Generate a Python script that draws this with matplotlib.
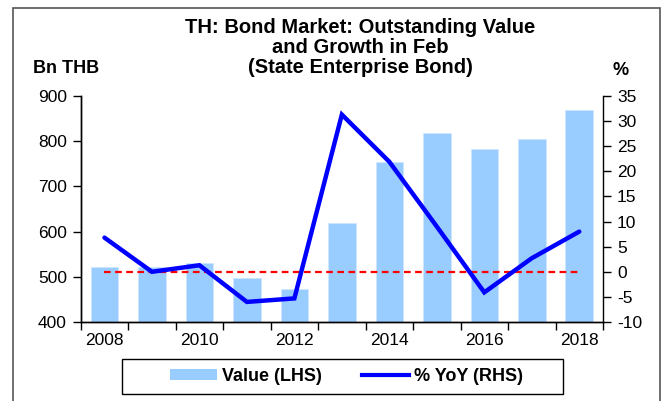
import matplotlib.pyplot as plt
from matplotlib.patches import Patch, Rectangle
from matplotlib.lines import Line2D

plt.rcParams['font.family'] = ['Liberation Sans', 'DejaVu Sans']
plt.rcParams['axes.unicode_minus'] = False

# data
years = [2008, 2009, 2010, 2011, 2012, 2013, 2014, 2015, 2016, 2017, 2018]
value_bn_thb = [522, 522, 530, 497, 472, 620, 753, 818, 783, 805, 870]
yoy_pct = [6.8, 0.0, 1.3, -6.0, -5.3, 31.3, 21.9, 9.0, -4.1, 2.7, 8.0]
label_years = [2008, 2010, 2012, 2014, 2016, 2018]

bar_color = '#99CCFF'
line_color = '#0000FF'

fig = plt.figure(figsize=(6.66, 4.01), dpi=100)
ax = fig.add_axes([0.1212, 0.197, 0.7842, 0.5636])
ax2 = ax.twinx()

x = list(range(len(years)))

ax.bar(x, value_bn_thb, width=0.58, color=bar_color, edgecolor='#cfe6ff', linewidth=0.6)
ax.set_ylim(400, 900)
ax.set_yticks(range(400, 901, 100))
ax.set_xlim(-0.5, len(years) - 0.5)

# ticks at category boundaries, labels every other year at centres
ax.set_xticks([i - 0.5 for i in range(len(years) + 1)])
ax.set_xticklabels([])
ax.set_xticks([years.index(y) for y in label_years], minor=True)
ax.set_xticklabels([str(y) for y in label_years], minor=True)
ax.tick_params(axis='x', which='major', direction='out', length=6, width=1)
ax.tick_params(axis='x', which='minor', length=0, pad=8, labelsize=12.5)
ax.tick_params(axis='y', direction='out', length=6, width=1, labelsize=12.5, pad=4)

ax2.plot([x[0], x[-1]], [0, 0], color='#FF0000', lw=1.6, dashes=(3, 2))
ax2.plot(x, yoy_pct, color=line_color, lw=3.2, solid_capstyle='round', solid_joinstyle='miter')
ax2.set_ylim(-10, 35)
ax2.set_yticks(range(-10, 36, 5))
ax2.tick_params(axis='y', direction='out', length=6, width=1, labelsize=12.5, pad=4)

for a in (ax, ax2):
    a.spines['top'].set_visible(False)
    for s in ('left', 'right', 'bottom'):
        a.spines[s].set_linewidth(1)
ax.spines['right'].set_visible(False)

# title and axis unit labels
title_lines = ['TH: Bond Market: Outstanding Value', 'and Growth in Feb', '(State Enterprise Bond)']
for line, yb in zip(title_lines, [0.9177, 0.8678, 0.818]):
    fig.text(0.541, yb, line, ha='center', va='baseline', fontsize=14.5, fontweight='bold')
fig.text(0.0495, 0.8187, 'Bn THB', ha='left', va='baseline', fontsize=13, fontweight='bold')
fig.text(0.9324, 0.813, '%', ha='center', va='baseline', fontsize=13, fontweight='bold')

# legend with its own box
fig.patches.append(Rectangle((0.1832, 0.0175), 0.6622, 0.0873, transform=fig.transFigure,
                             fill=False, edgecolor='black', lw=1))
handles = [Patch(facecolor=bar_color, edgecolor='none'),
           Line2D([], [], color=line_color, lw=3)]
leg = fig.legend(handles, ['Value (LHS)', '% YoY (RHS)'], loc='center',
                 bbox_to_anchor=(0.52, 0.061), ncol=2, frameon=False,
                 handlelength=2.6, handleheight=0.6, handletextpad=0.3,
                 columnspacing=2.2, prop={'size': 13, 'weight': 'bold'})

# outer chart border
fig.patches.append(Rectangle((0.0188, -0.05), 0.972, 1.0305, transform=fig.transFigure,
                             fill=False, edgecolor='#555555', lw=1.2))

fig.savefig('out.png', dpi=100)
